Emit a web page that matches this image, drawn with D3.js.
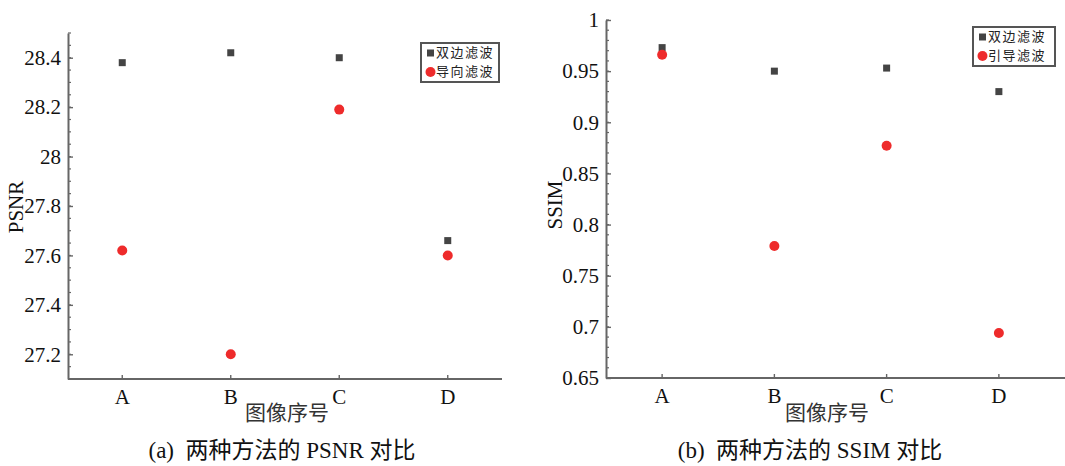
<!DOCTYPE html>
<html>
<head>
<meta charset="utf-8">
<script src="https://cdn.jsdelivr.net/npm/d3@7"></script>
<style>
  body { margin: 0; background: #fff; }
  svg { display: block; }
</style>
</head>
<body>
<div id="chart"></div>
<script>
// image ids on the x axis
const categories = ['A', 'B', 'C', 'D'];

// (a) PSNR
const psnrBilateral = [28.38, 28.42, 28.40, 27.66];
const psnrGuided = [27.62, 27.20, 28.19, 27.60];
const psnrTicks = [27.2, 27.4, 27.6, 27.8, 28, 28.2, 28.4];

// (b) SSIM
const ssimBilateral = [0.973, 0.950, 0.953, 0.930];
const ssimGuided = [0.966, 0.779, 0.877, 0.694];
const ssimTicks = [0.65, 0.7, 0.75, 0.8, 0.85, 0.9, 0.95, 1];

const svg = d3.select('#chart').append('svg')
    .attr('width', 1065).attr('height', 466);

const axisColor = '#666';
const squareColor = '#444';
const circleColor = '#ee2b2b';
const serif = '"Liberation Serif", "Noto Sans CJK SC", serif';
const cjk = '"Noto Sans CJK SC", sans-serif';

// draw one panel
function drawPanel(opt) {
    const g = svg.append('g');

    const xScale = d3.scaleBand().domain(categories).range([opt.left, opt.right]).padding(0);
    const xPos = d => xScale(d) + xScale.bandwidth() / 2;
    const yScale = d3.scaleLinear().domain(opt.yDomain).range([opt.bottom, opt.top]);

    // minor ticks (inward)
    const minor = d3.range(Math.round((opt.yDomain[1] - opt.yDomain[0]) / opt.minorStep) + 1)
        .map(i => opt.yDomain[0] + i * opt.minorStep);
    g.append('g').selectAll('line').data(minor).enter().append('line')
        .attr('x1', opt.left).attr('x2', opt.left + 3)
        .attr('y1', d => yScale(d)).attr('y2', d => yScale(d))
        .attr('stroke', axisColor).attr('stroke-width', 1.2);

    // y axis
    const yAxis = d3.axisLeft(yScale).tickValues(opt.yTicks)
        .tickFormat(d3.format('')).tickSizeInner(-5).tickSizeOuter(0).tickPadding(7);
    const yAxisDraw = g.append('g').attr('transform', `translate(${opt.left},0)`).call(yAxis);
    yAxisDraw.select('.domain').attr('stroke', axisColor).attr('stroke-width', 2);
    yAxisDraw.selectAll('.tick line').attr('stroke', axisColor).attr('stroke-width', 1.4);
    yAxisDraw.selectAll('text').style('font-size', '21px').style('font-family', serif)
        .attr('fill', '#111').attr('dy', '0.32em');

    // x axis
    const xAxis = d3.axisBottom(xScale).tickSizeInner(-4).tickSizeOuter(0).tickPadding(9);
    const xAxisDraw = g.append('g').attr('transform', `translate(0,${opt.bottom})`).call(xAxis);
    xAxisDraw.select('.domain').attr('stroke', axisColor).attr('stroke-width', 2)
        .attr('d', `M${opt.left},0H${opt.axisEnd}`);
    xAxisDraw.selectAll('.tick line').attr('stroke', axisColor).attr('stroke-width', 1.4);
    xAxisDraw.selectAll('text').style('font-size', '21px').style('font-family', serif)
        .attr('fill', '#111').attr('dy', '0.75em');

    // axis titles
    g.append('text')
        .attr('transform', `translate(${opt.yTitleX},${opt.yTitleY}) rotate(-90)`)
        .attr('text-anchor', 'middle').attr('dominant-baseline', 'middle')
        .style('font-family', serif).style('font-size', '21px').attr('fill', '#111')
        .text(opt.yTitle);
    g.append('text')
        .attr('x', opt.xTitleX).attr('y', 414)
        .attr('text-anchor', 'middle').attr('dominant-baseline', 'middle')
        .style('font-family', cjk).style('font-size', '21px').attr('fill', '#333')
        .text('图像序号');

    // caption
    g.append('text')
        .attr('x', opt.captionX).attr('y', 453)
        .attr('text-anchor', 'middle').attr('dominant-baseline', 'middle')
        .style('font-family', serif).style('font-size', '23px').attr('fill', '#111')
        .style('white-space', 'pre')
        .text(opt.caption);

    // points
    g.append('g').selectAll('rect').data(opt.squares).enter().append('rect')
        .attr('x', (d, i) => xPos(categories[i]) - 3.5)
        .attr('y', d => yScale(d) - 3.5)
        .attr('width', 7).attr('height', 7)
        .attr('fill', squareColor);
    g.append('g').selectAll('circle').data(opt.circles).enter().append('circle')
        .attr('cx', (d, i) => xPos(categories[i]))
        .attr('cy', d => yScale(d))
        .attr('r', 5)
        .attr('fill', circleColor);

    // legend
    const lg = g.append('g').attr('transform', `translate(${opt.legend[0]},${opt.legend[1]})`);
    lg.append('rect').attr('x', 0).attr('y', 0).attr('width', opt.legend[2]).attr('height', 39)
        .attr('fill', '#fff').attr('stroke', '#555').attr('stroke-width', 2);
    lg.append('rect').attr('x', 6).attr('y', 6.5).attr('width', 7).attr('height', 7).attr('fill', squareColor);
    lg.append('circle').attr('cx', 9.5).attr('cy', 29).attr('r', 5).attr('fill', circleColor);
    lg.selectAll('.legend-label').data(opt.names).enter().append('text')
        .attr('class', 'legend-label')
        .attr('x', 15).attr('y', (d, i) => 10 + i * 19).attr('dominant-baseline', 'middle')
        .style('font-family', cjk).style('font-size', '13px').style('letter-spacing', '1.5px')
        .attr('fill', '#222').text(d => d);
}

drawPanel({
    left: 68, right: 502, axisEnd: 502, top: 33, bottom: 379,
    yDomain: [27.1, 28.5], yTicks: psnrTicks, minorStep: 0.05,
    squares: psnrBilateral, circles: psnrGuided,
    yTitle: 'PSNR', yTitleX: 18, yTitleY: 207, xTitleX: 287,
    caption: '(a)  两种方法的 PSNR 对比', captionX: 282,
    legend: [421, 43, 78], names: ['双边滤波', '导向滤波']
});

drawPanel({
    left: 606, right: 1055, axisEnd: 1065, top: 20, bottom: 378,
    yDomain: [0.65, 1], yTicks: ssimTicks, minorStep: 0.01,
    squares: ssimBilateral, circles: ssimGuided,
    yTitle: 'SSIM', yTitleX: 557, yTitleY: 205, xTitleX: 827,
    caption: '(b)  两种方法的 SSIM 对比', captionX: 810,
    legend: [973, 27, 82], names: ['双边滤波', '引导滤波']
});
</script>
</body>
</html>
